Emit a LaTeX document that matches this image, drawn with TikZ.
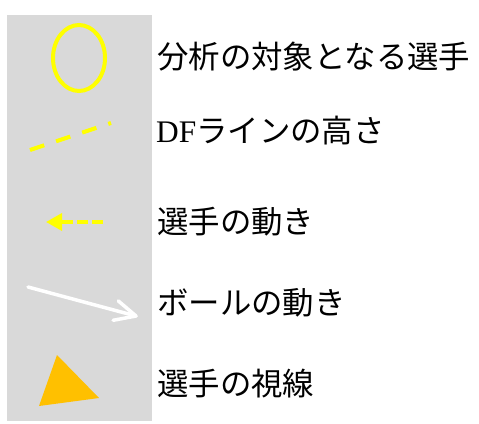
\documentclass[tikz,border=0pt]{standalone}
\usepackage{fontspec}
\newfontfamily\cjk{Noto Sans CJK JP}
\newfontfamily\latinserif{Liberation Serif}
\usetikzlibrary{arrows.meta}
\definecolor{panelgray}{HTML}{D9D9D9}
\definecolor{ylw}{HTML}{FFFF00}
\definecolor{gold}{HTML}{FFC000}
\tikzset{
  label/.style={anchor=west, inner sep=0pt, font=\fontsize{31.4pt}{31.4pt}\selectfont\cjk, text height=27.6pt, text depth=3.8pt},
  yline/.style={draw=ylw, line width=4pt},
  dfline/.style={yline, dash pattern=on 15pt off 12.5pt},
  moveline/.style={draw=ylw, line width=3.5pt, dash pattern=on 11pt off 4pt, -{Triangle[length=16pt,width=17pt]}},
  ballline/.style={draw=white, line width=3.5pt, line cap=round, line join=round},
}
\begin{document}
\begin{tikzpicture}[x=1pt,y=-1pt]
\useasboundingbox (0,0) rectangle (479,423);
\fill[panelgray] (7,15) rectangle (152,421);
% target player
\draw[yline] (79,58) ellipse [x radius=26, y radius=33];
% DF line
\coordinate (dfa) at (30,150);
\coordinate (dfb) at (111,123);
\draw[dfline] (dfa) -- (dfb);
% player movement
\coordinate (pmtail) at (103,222);
\coordinate (pmtip) at (46,222);
\draw[moveline] (pmtail) -- (pmtip);
% ball movement
\coordinate (btail) at (28,287);
\coordinate (btip) at (136,316);
\coordinate (barm1) at (118.3,300.9);
\coordinate (barm2) at (113.1,320.3);
\draw[ballline] (btail) -- (btip);
\draw[ballline] (barm1) -- (btip) -- (barm2);
% line of sight
\fill[gold] (57,355) -- (39,406) -- (99,398) -- cycle;
% labels
\node[label] (l1) at (157,57) {分析の対象となる選手};
\node[label] (l2) at (156,131) {{\latinserif DF}ラインの高さ};
\node[label] (l3) at (157,222) {選手の動き};
\node[label] (l4) at (157,303) {ボールの動き};
\node[label] (l5) at (157,384) {選手の視線};
\end{tikzpicture}
\end{document}
